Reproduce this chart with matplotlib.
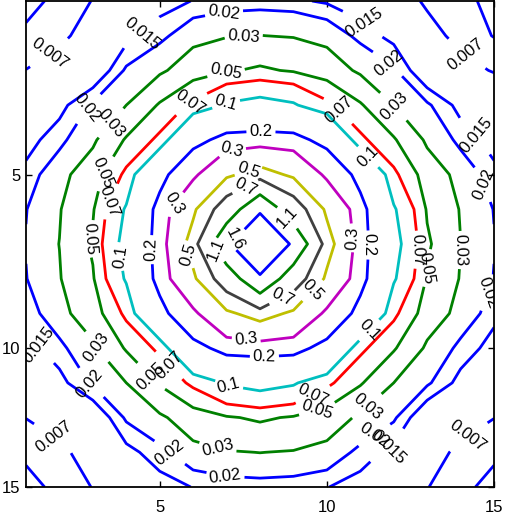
import numpy as np
import matplotlib
matplotlib.use('Agg')
import matplotlib.pyplot as plt

# contour levels and the colour used for each (MATLAB's old colour order)
levels = [0.007, 0.015, 0.02, 0.03, 0.05, 0.07, 0.1, 0.2, 0.3, 0.5, 0.7, 1.1, 1.6]
level_colors = [(0, 0, 1), (0, 0, 1), (0, 0, 1), (0, 0.5, 0), (0, 0.5, 0),
                (1, 0, 0), (0, 0.75, 0.75), (0, 0, 1), (0.75, 0, 0.75),
                (0.75, 0.75, 0), (0.25, 0.25, 0.25), (0, 0.5, 0), (0, 0, 1)]
corner_level = [0.005]

# field values, rows y = 1..15, columns x = 1..15
z_rows = [
    [0.0045, 0.0054, 0.0071, 0.0097, 0.0125, 0.0152, 0.0160, 0.0165, 0.0160, 0.0142, 0.0115, 0.0085, 0.0066, 0.0058, 0.0042],
    [0.0053, 0.0064, 0.0082, 0.013, 0.018, 0.025, 0.029, 0.0302, 0.029, 0.025, 0.018, 0.013, 0.0080, 0.0062, 0.0049],
    [0.00705, 0.0082, 0.009, 0.021, 0.027, 0.040, 0.048, 0.053, 0.048, 0.040, 0.027, 0.021, 0.009, 0.0080, 0.0068],
    [0.0098, 0.013, 0.021, 0.030, 0.052, 0.075, 0.104, 0.114, 0.104, 0.075, 0.052, 0.030, 0.021, 0.013, 0.0098],
    [0.0128, 0.018, 0.027, 0.052, 0.075, 0.175, 0.224, 0.229, 0.224, 0.175, 0.075, 0.052, 0.027, 0.018, 0.0128],
    [0.0165, 0.025, 0.040, 0.075, 0.175, 0.27, 0.466, 0.58, 0.466, 0.27, 0.175, 0.075, 0.040, 0.025, 0.0165],
    [0.0197, 0.029, 0.048, 0.104, 0.224, 0.466, 0.84, 1.48, 0.84, 0.466, 0.224, 0.104, 0.048, 0.029, 0.0197],
    [0.0204, 0.0302, 0.053, 0.114, 0.229, 0.58, 1.48, 2.5, 1.48, 0.58, 0.229, 0.114, 0.053, 0.0302, 0.0204],
    [0.0197, 0.029, 0.048, 0.104, 0.224, 0.466, 0.84, 1.48, 0.84, 0.466, 0.224, 0.104, 0.048, 0.029, 0.0197],
    [0.0165, 0.025, 0.040, 0.075, 0.175, 0.27, 0.466, 0.58, 0.466, 0.27, 0.175, 0.075, 0.040, 0.025, 0.0165],
    [0.0128, 0.018, 0.027, 0.052, 0.075, 0.175, 0.224, 0.229, 0.224, 0.175, 0.075, 0.052, 0.027, 0.018, 0.0128],
    [0.0098, 0.013, 0.021, 0.030, 0.052, 0.075, 0.104, 0.114, 0.104, 0.075, 0.052, 0.030, 0.021, 0.013, 0.0098],
    [0.00705, 0.0082, 0.009, 0.021, 0.027, 0.040, 0.048, 0.053, 0.048, 0.040, 0.027, 0.021, 0.009, 0.0082, 0.00705],
    [0.0053, 0.0064, 0.0082, 0.013, 0.018, 0.025, 0.029, 0.0302, 0.029, 0.025, 0.018, 0.013, 0.0082, 0.0064, 0.0053],
    [0.0045, 0.0054, 0.0071, 0.0097, 0.0125, 0.0152, 0.0160, 0.0165, 0.0160, 0.0152, 0.0125, 0.0097, 0.0071, 0.0054, 0.0045],
]

xs = np.arange(1, 16)
ys = np.arange(1, 16)
ytick_pos = [6, 11, 15]
ytick_lab = ['5', '10', '15']
xtick_pos = [5, 10, 15]

# label spots (data coords), only used to pick where clabel puts text
label_spots = [
    # upper left
    (1.84, 2.70), (4.38, 1.84), (6.92, 1.32), (7.52, 2.12), (6.98, 3.05),
    (5.97, 4.0), (7.01, 4.0), (8.03, 4.72), (7.16, 5.38), (7.67, 5.93),
    (7.58, 6.39), (3.09, 4.23), (3.54, 4.51), (3.33, 5.96), (3.42, 6.73),
    (5.49, 6.88), (2.79, 7.83), (3.69, 8.38), (4.62, 8.17), (5.79, 8.32),
    (6.68, 8.17), (7.16, 7.80), (8.81, 7.25),
    # right
    (11.1, 1.62), (14.01, 2.76), (11.95, 2.64), (12.1, 3.95),
    (10.36, 4.14), (11.20, 5.52), (14.31, 5.0), (14.61, 6.30), (10.72, 7.83),
    (11.26, 8.03), (12.76, 8.17), (13.95, 8.17), (13.0, 8.69), (14.61, 9.33),
    (8.66, 9.53), (9.56, 9.33), (11.2, 10.42),
    # bottom
    (7.58, 10.82), (8.12, 11.05), (7.07, 12.06), (9.56, 12.29), (9.70, 12.70),
    (11.11, 12.58), (11.32, 13.36), (12.01, 14.08), (14.10, 13.36),
    (6.83, 13.56), (7.01, 14.45), (5.22, 14.11), (1.93, 13.42), (1.24, 11.0),
    (2.94, 11.05), (3.03, 11.86), (5.07, 11.69), (4.7, 11.85),
]

plt.rcParams['font.family'] = ['Liberation Sans', 'DejaVu Sans']

Z = np.array(z_rows)
X, Y = np.meshgrid(xs, ys)

fig = plt.figure(figsize=(5.05, 5.19), dpi=100)
ax = fig.add_axes([26 / 505, 32 / 519, 468 / 505, 486 / 519])

ax.contour(X, Y, Z, levels=corner_level, colors=[(0, 0, 1)], linewidths=2.0)
cs = ax.contour(X, Y, Z, levels=levels, colors=level_colors, linewidths=2.0)
ax.clabel(cs, manual=label_spots, inline=True, fontsize=12, fmt='%g',
          inline_spacing=3, colors='k')

ax.set_xlim(1, 15)
ax.set_ylim(15, 1)
ax.set_xticks(xtick_pos)
ax.set_yticks(ytick_pos)
ax.set_yticklabels(ytick_lab)
ax.tick_params(direction='in', top=True, right=True, length=4, width=1,
               labelsize=12)
ax.tick_params(axis='y', pad=4)
ax.tick_params(axis='x', pad=9)
for s in ax.spines.values():
    s.set_linewidth(1.3)

fig.savefig('out.png', dpi=100)
